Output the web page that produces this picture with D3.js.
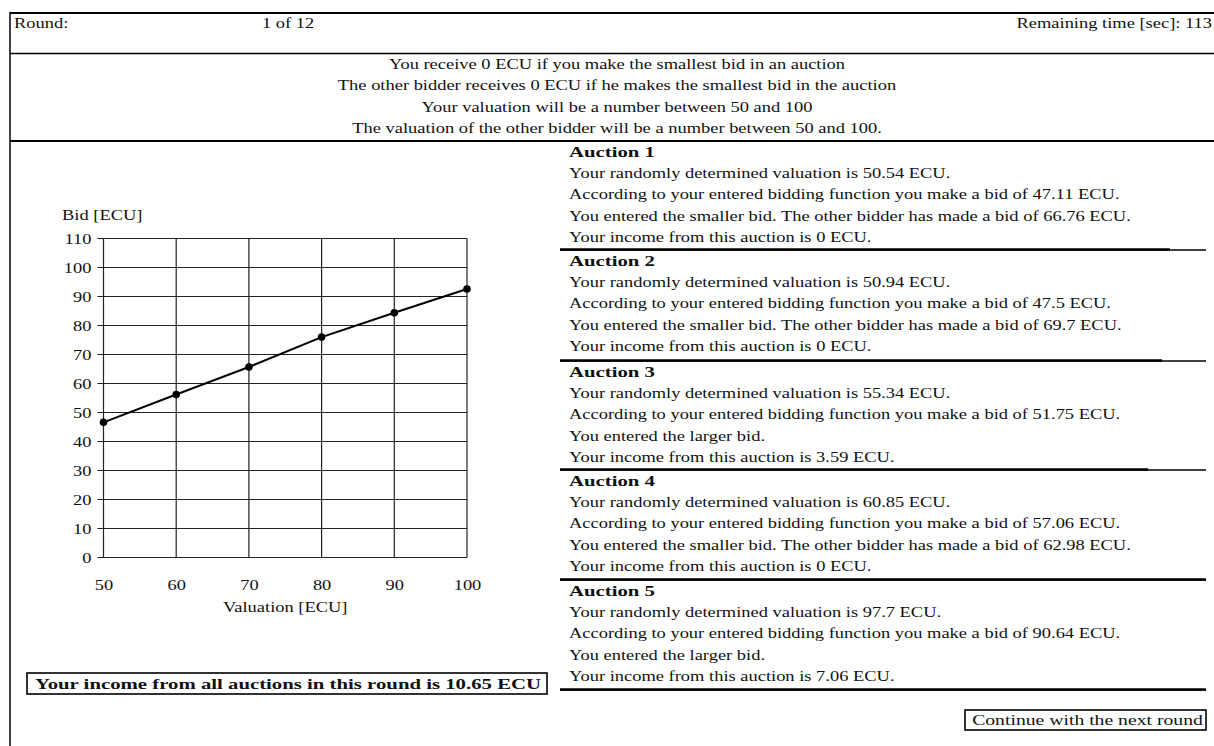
<!DOCTYPE html>
<html>
<head>
<meta charset="utf-8">
<script src="https://cdn.jsdelivr.net/npm/d3@7"></script>
<style>
  html, body { margin: 0; padding: 0; background: #fff; }
  svg { display: block; }
  text { font-family: "Liberation Serif", "Times New Roman", serif; fill: #111; }
</style>
</head>
<body>
<svg id="chart" width="1214" height="746"></svg>
<script>
// ---------- data ----------
const roundLabel = "Round:";
const roundValue = "1 of 12";
const timeLabel = "Remaining time [sec]: 113";
const infoLines = [
  "You receive 0 ECU if you make the smallest bid in an auction",
  "The other bidder receives 0 ECU if he makes the smallest bid in the auction",
  "Your valuation will be a number between 50 and 100",
  "The valuation of the other bidder will be a number between 50 and 100."
];
const valuations = [50, 60, 70, 80, 90, 100];
const bids = [46.6, 56.2, 65.7, 76.0, 84.4, 92.6];
const yTicks = [0, 10, 20, 30, 40, 50, 60, 70, 80, 90, 100, 110];
const xTicks = [50, 60, 70, 80, 90, 100];
const yAxisTitle = "Bid [ECU]";
const xAxisTitle = "Valuation [ECU]";
const auctionNames = ["Auction 1", "Auction 2", "Auction 3", "Auction 4", "Auction 5"];
const auctionValuation = [50.54, 50.94, 55.34, 60.85, 97.7];
const auctionBid = [47.11, 47.5, 51.75, 57.06, 90.64];
const otherBid = [66.76, 69.7, null, 62.98, null];
const auctionIncome = [0, 0, 3.59, 0, 7.06];
const totalIncome = 10.65;
const continueLabel = "Continue with the next round";

// ---------- layout ----------
const svg = d3.select("#chart");
const W = 1214;
const fs = 15.5;      // regular font size
const fsB = 15.5;     // bold font size
const kR = 1.19;      // horizontal stretch, regular (Computer-Modern-like width)
const kB = 1.34;      // horizontal stretch, bold

function T(sel, k) { return sel.attr("data-k", k); }

// frame lines
svg.append("line").attr("x1", 10).attr("x2", W).attr("y1", 13).attr("y2", 13)
  .attr("stroke", "#000").attr("stroke-width", 2);
svg.append("line").attr("x1", 10).attr("x2", 10).attr("y1", 12).attr("y2", 746)
  .attr("stroke", "#000").attr("stroke-width", 1.5);
svg.append("line").attr("x1", 10).attr("x2", W).attr("y1", 53.5).attr("y2", 53.5)
  .attr("stroke", "#000").attr("stroke-width", 1.3);
svg.append("line").attr("x1", 10).attr("x2", W).attr("y1", 141).attr("y2", 141)
  .attr("stroke", "#000").attr("stroke-width", 2.2);

T(svg.append("text").attr("x", 14).attr("y", 27.5).attr("font-size", fs).text(roundLabel), kR);
T(svg.append("text").attr("x", 262).attr("y", 27.5).attr("font-size", fs).text(roundValue), kR);
T(svg.append("text").attr("x", 1212).attr("y", 27.5).attr("font-size", fs)
  .attr("text-anchor", "end").text(timeLabel), kR);

T(svg.selectAll("text.info").data(infoLines).join("text")
  .attr("class", "info")
  .attr("x", 617).attr("y", (d, i) => 69 + i * 21.3)
  .attr("font-size", fs).attr("text-anchor", "middle").text(d => d), kR);

// ---------- chart ----------
const x = d3.scaleLinear().domain([50, 100]).range([103.5, 467]);
const y = d3.scaleLinear().domain([0, 110]).range([557.5, 238.5]);

const g = svg.append("g");
g.selectAll("line.hg").data(yTicks).join("line").attr("class", "hg")
  .attr("x1", x(50) - 6).attr("x2", x(100))
  .attr("y1", d => y(d)).attr("y2", d => y(d))
  .attr("stroke", "#222").attr("stroke-width", 1.2);
g.selectAll("line.vg").data(xTicks).join("line").attr("class", "vg")
  .attr("x1", d => x(d)).attr("x2", d => x(d))
  .attr("y1", y(0)).attr("y2", y(110))
  .attr("stroke", "#222").attr("stroke-width", 1.2);

const yAxis = d3.axisLeft(y).tickValues(yTicks).tickSize(0).tickPadding(12);
const yg = svg.append("g").attr("transform", `translate(${x(50)},0)`).call(yAxis);
yg.select(".domain").remove();
T(yg.selectAll("text").attr("font-size", fs).attr("font-family", "Liberation Serif")
  .attr("fill", "#111").attr("dy", "0.34em"), kR);

const xAxis = d3.axisBottom(x).tickValues(xTicks).tickSize(0).tickPadding(21);
const xg = svg.append("g").attr("transform", `translate(0,${y(0)})`).call(xAxis);
xg.select(".domain").remove();
T(xg.selectAll("text").attr("font-size", fs).attr("font-family", "Liberation Serif")
  .attr("fill", "#111"), kR);

T(svg.append("text").attr("x", 62).attr("y", 220).attr("font-size", fs).text(yAxisTitle), kR);
T(svg.append("text").attr("x", x(75)).attr("y", 612).attr("font-size", fs)
  .attr("text-anchor", "middle").text(xAxisTitle), kR);

const pts = valuations.map((v, i) => [v, bids[i]]);
g.append("path").datum(pts)
  .attr("d", d3.line().x(d => x(d[0])).y(d => y(d[1])))
  .attr("fill", "none").attr("stroke", "#000").attr("stroke-width", 2);
g.selectAll("circle").data(pts).join("circle")
  .attr("cx", d => x(d[0])).attr("cy", d => y(d[1])).attr("r", 3.8).attr("fill", "#000");

// total income box
svg.append("rect").attr("x", 27).attr("y", 673).attr("width", 520).attr("height", 21)
  .attr("fill", "none").attr("stroke", "#000").attr("stroke-width", 1.6);
T(svg.append("text").attr("x", 288).attr("y", 688.5).attr("font-size", fsB)
  .attr("font-weight", "bold").attr("text-anchor", "middle")
  .text(`Your income from all auctions in this round is ${totalIncome} ECU`), kB);

// ---------- auctions ----------
const blockTop = [141, 250, 361, 470, 580];
const sepY = [250, 361, 470, 580, 690];
const thickEnd = [1170, 1162, 1148, 1206, 1206];
const auctions = auctionNames.map((n, i) => {
  const lines = [
    `Your randomly determined valuation is ${auctionValuation[i]} ECU.`,
    `According to your entered bidding function you make a bid of ${auctionBid[i]} ECU.`,
    otherBid[i] === null ? "You entered the larger bid."
      : `You entered the smaller bid. The other bidder has made a bid of ${otherBid[i]} ECU.`,
    `Your income from this auction is ${auctionIncome[i]} ECU.`
  ];
  return { name: n, lines, i };
});
const ag = svg.selectAll("g.auction").data(auctions).join("g").attr("class", "auction");
T(ag.append("text").attr("x", 569).attr("y", d => blockTop[d.i] + 16)
  .attr("font-size", fsB).attr("font-weight", "bold").text(d => d.name), kB);
ag.each(function (d) {
  T(d3.select(this).selectAll("text.l").data(d.lines).join("text").attr("class", "l")
    .attr("x", 569).attr("y", (t, j) => blockTop[d.i] + 36.5 + j * 21.5)
    .attr("font-size", fs).text(t => t), kR);
});
ag.append("line").attr("x1", 560).attr("x2", 1206)
  .attr("y1", d => sepY[d.i]).attr("y2", d => sepY[d.i])
  .attr("stroke", "#000").attr("stroke-width", 1.3);
ag.append("line").attr("x1", 560).attr("x2", d => thickEnd[d.i])
  .attr("y1", d => sepY[d.i] - 0.5).attr("y2", d => sepY[d.i] - 0.5)
  .attr("stroke", "#000").attr("stroke-width", 2.4);

// continue button
svg.append("rect").attr("x", 965).attr("y", 710).attr("width", 241).attr("height", 20)
  .attr("fill", "none").attr("stroke", "#000").attr("stroke-width", 1.6);
T(svg.append("text").attr("x", 1087.5).attr("y", 725).attr("font-size", fs)
  .attr("text-anchor", "middle").text(continueLabel), 1.27);

// apply horizontal stretch to emulate the wider Computer Modern glyphs
svg.selectAll("text[data-k]").each(function () {
  const k = +this.getAttribute("data-k");
  const len = this.getComputedTextLength();
  this.setAttribute("textLength", (len * k).toFixed(1));
  this.setAttribute("lengthAdjust", "spacingAndGlyphs");
});
</script>
</body>
</html>
